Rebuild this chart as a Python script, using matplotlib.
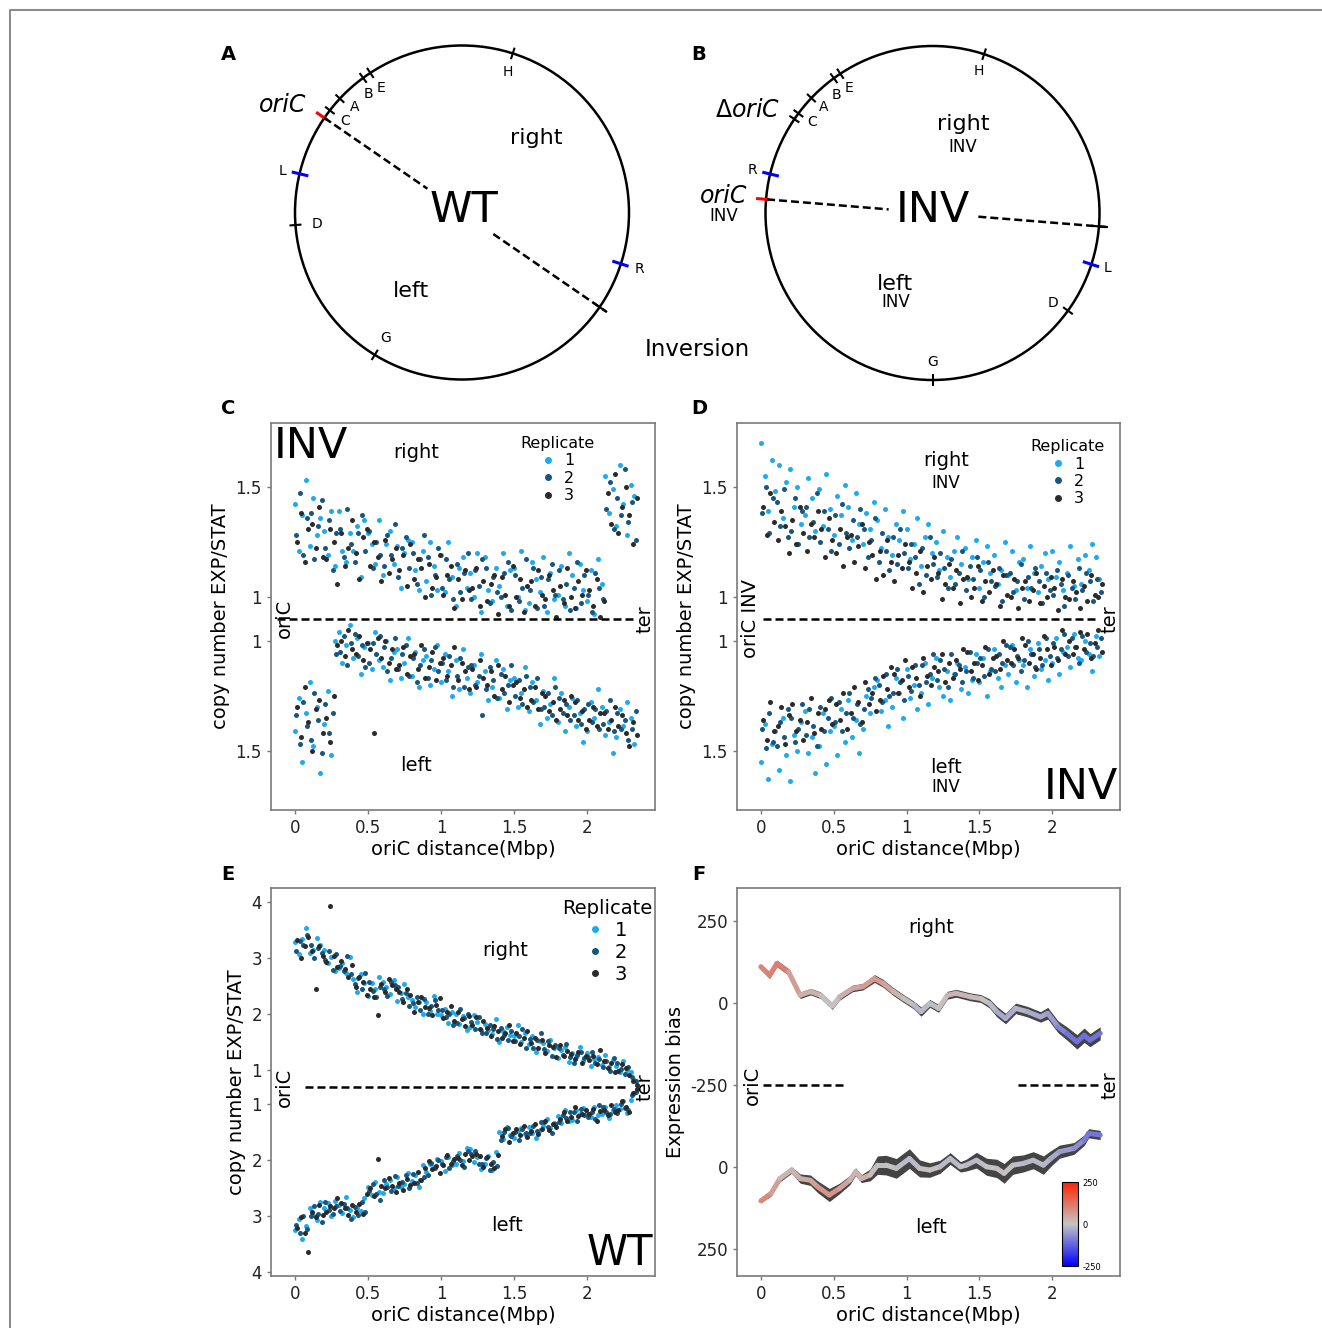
import numpy as np
import matplotlib.pyplot as plt
from matplotlib.patches import Circle
from matplotlib.collections import LineCollection
from matplotlib.colors import LinearSegmentedColormap, Normalize
from matplotlib.cm import ScalarMappable
from matplotlib.lines import Line2D

plt.rcParams['axes.unicode_minus'] = False

# genome bins, Mbp from oriC (25 kb windows)
dist = np.arange(94) * 0.025

# ---- C: INV strain, copy number EXP/STAT (x100), right / left arm, replicates 1-3
c_r1 = [142,121,137,153, 123,145,128,136, 130,119,139,114, 139,121,116,129, 121,132,109,135,
        129,124,115,135, 110,124,130,115, 123,104,120,126, 125,112,103,121, 107,125,114,103,
        119,102,125,109, 96,113,118,104, 111,100,120,93, 118,103,98,113, 105,120,96,112,
        113,100,121,94, 97,116,108,102, 118,93,111,99, 101,114,96,120, 110,95,115,103,
        98,112,92,117, 106, 155,138,149,132,160,142,128,151,146]
c_r2 = [128,147,119,136, 138,117,132,144, 122,135,112,129, 131,118,140,124, 116,129,137,121,
        130,113,125,119, 114,128,119,133, 109,122,127,113, 120,106,117,128, 118,101,110,122,
        104,117,108,99, 115,102,111,120, 99,112,105,117, 113,97,109,102, 100,111,116,94,
        110,98,104,117, 103,113,95,109, 96,108,115,101, 112,99,106,94, 104,116,97,110,
        101,93,111,104, 99, 140,152,131,145,137,158,134,143,126]
c_r3 = [125,138,116,131, 133,122,141,118, 117,131,125,106, 129,114,122,135, 120,108,127,131,
        114,125,118,107, 126,111,117,122, 112,119,105,124, 108,117,113,100, 115,104,109,119,
        101,110,114,95, 108,99,112,103, 104,113,96,107, 98,106,110,92, 109,101,96,114,
        100,108,93,105, 107,96,112,101, 99,110,103,91, 105,97,113,100, 95,107,101,112,
        103,96,108,91, 98, 147,133,156,129,141,150,137,124,145]
c_l1 = [141,126,155,133, 119,148,130,160, 138,123,152, 100, 96,110,102,93, 108,99,115,103,
        101,113,96,109, 112,100,118,105, 104,117,110,99, 116,105,121,109, 107,120,113,102,
        119,106,114,125, 109,122,104,117, 124,111,119,106, 114,127,121,109, 126,113,131,118,
        117,130,124,112, 132,119,127,138, 123,135,129,117, 137,124,141,130, 126,139,133,146,
        141,128,135,122, 130,143,137,151, 144,131,139,128, 135,147]
c_l2 = [134,147,128,139, 145,124,136,151, 129,142,133, 106, 105,98,111,101, 97,107,102,112,
        110,101,106,98, 103,114,108,99, 113,106,102,116, 108,119,111,104, 117,109,103,114,
        110,118,107,121, 116,108,121,112, 111,120,116,134, 122,112,118,126, 115,124,120,111,
        125,118,129,116, 121,128,117,131, 130,124,134,121, 126,133,129,136, 134,127,138,131,
        129,137,131,140, 138,132,127,141, 133,140,136,145, 140,132]
c_l3 = [130,144,121,137, 150,131,127,142, 135,146,125, 102, 100,107,95,104, 106,98,109,101,
        104,142,99,108, 100,110,104,113, 111,103,115,107, 106,113,102,117, 112,105,118,110,
        108,116,111,103, 118,110,114,122, 113,121,109,117, 120,114,125,111, 122,116,128,120,
        119,126,122,130, 127,121,131,124, 125,132,128,136, 131,127,134,125, 128,136,132,140,
        136,130,139,133, 133,140,136,130, 139,134,142,148, 137,143]

# ---- D: INV strain with inverted arms
d_r1 = [170,155,139,162, 148,160,136,152, 158,141,150,133, 137,154,145,130, 149,132,156,140,
        128,146,137,151, 141,126,147,133, 124,138,131,143, 135,122,140,127, 119,133,126,139,
        131,117,124,136, 114,127,133,120, 125,112,130,118, 109,121,127,115, 122,108,118,126,
        104,116,123,111, 119,106,112,125, 110,121,103,116, 117,104,123,111, 102,114,120,108,
        121,109,116,103, 111,123,105,117, 106,119,112,124, 118,108]
d_r2 = [138,150,129,145, 143,132,149,127, 130,145,124,139, 141,127,134,147, 125,139,131,121,
        137,124,142,129, 122,135,127,140, 131,118,126,136, 116,129,121,112, 127,115,131,120,
        113,124,118,106, 122,110,127,115, 109,120,113,104, 117,106,111,121, 103,114,108,118,
        112,100,116,107, 105,113,98,110, 111,102,107,115, 99,109,104,113, 107,97,111,103,
        101,112,106,96, 110,104,99,113, 103,111,107,98, 108,102]
d_r3 = [141,128,147,134, 126,139,132,120, 135,124,141,129, 121,133,127,139, 131,118,136,126,
        120,131,114,127, 128,116,123,133, 113,125,119,108, 121,110,126,116, 107,119,113,124,
        116,104,111,121, 102,114,108,118, 111,99,106,115, 104,112,97,108, 109,100,104,114,
        98,107,102,112, 106,96,110,101, 100,108,95,104, 107,98,103,111, 97,105,100,109,
        104,94,108,100, 99,107,102,95, 105,98,110,101, 100,106]
d_l1 = [155,138,163,147, 141,159,135,152, 164,143,150,137, 132,151,144,160, 148,133,156,141,
        139,152,131,146, 127,144,136,151, 140,125,133,121, 118,132,127,139, 130,117,124,135,
        113,126,120,131, 124,110,129,117, 108,121,125,114, 127,115,110,122, 112,124,118,106,
        119,108,125,114, 104,117,121,111, 115,102,119,109, 111,121,104,116, 101,113,109,118,
        110,99,115,105, 103,112,97,108, 109,100,106,114, 98,107]
d_l2 = [140,149,133,146, 148,137,144,131, 135,146,140,129, 143,131,139,148, 130,141,135,126,
        137,128,141,133, 124,135,129,138, 131,122,126,117, 120,128,115,125, 124,113,119,127,
        116,123,111,120, 111,119,115,106, 118,109,113,121, 106,115,111,119, 114,105,117,110,
        108,116,104,113, 114,106,110,102, 103,111,107,114, 109,100,106,112, 104,111,99,107,
        101,108,104,97, 107,99,103,110, 98,105,101,107, 103,99]
d_l3 = [136,145,128,141, 139,130,147,134, 129,141,136,145, 137,126,142,133, 140,131,127,138,
        129,136,124,140, 133,121,128,137, 119,129,124,132, 127,116,122,112, 115,124,118,109,
        121,112,117,125, 108,116,120,112, 114,106,119,110, 117,109,113,104, 105,114,110,118,
        111,103,115,108, 107,113,100,109, 110,104,108,99, 102,110,106,113, 108,98,104,111,
        103,109,95,106, 100,106,103,96, 104,97,108,101, 95,105]

# ---- E: WT strain
e_r1 = [328,307,334,353, 309,314,336,323, 314,291,301,276, 282,291,273,302, 262,240,271,255,
        232,255,244,266, 257,248,235,260, 224,238,253,231, 225,213,221,201, 222,206,232,201,
        198,209,184,204, 201,182,196,172, 177,198,185,172, 182,171,164,191, 151,169,177,162,
        161,180,151,167, 146,161,133,152, 148,134,154,139, 122,135,141,114, 130,123,142,117,
        131,108,120,124, 109,127,105,118, 107,96,117,101, 97,82]
e_r2 = [313,330,323,341, 324,300,318,309, 296,312,279,307, 286,276,304,271, 253,264,244,273,
        258,242,230,249, 245,233,258,251, 248,227,237,215, 219,230,207,226, 201,214,225,207,
        207,195,201,181, 184,209,193,201, 185,174,194,167, 166,181,174,155, 176,162,153,170,
        152,161,174,140, 156,140,153,166, 138,152,126,144, 139,127,147,123, 113,127,133,121,
        123,133,112,119, 106,116,98,122, 113,102,93,106, 88,80]
e_r3 = [333,300,321,337, 312,245,321,304, 293,392,304,284, 295,280,267,288, 248,267,258,234,
        244,231,198,253, 240,262,251,244, 240,221,244,234, 204,222,231,213, 211,199,216,229,
        193,203,214,188, 204,191,178,197, 181,195,173,187, 176,160,179,169, 157,166,181,152,
        166,146,157,170, 149,157,139,153, 131,145,141,124, 144,125,134,129, 120,133,112,126,
        118,126,111,135, 116,104,113,97, 99,110,103,92, 81,74]
e_l1 = [326,306,342,318, 286,298,308,275, 286,278,301,274, 281,295,267,290, 302,287,291,268,
        249,263,240,257, 259,244,236,250, 230,248,243,223, 238,227,248,210, 221,208,213,199,
        203,220,195,209, 207,188,202,179, 181,204,195,216, 208,194,219,186, 150,163,142,156,
        162,149,143,154, 141,152,161,147, 140,127,144,134, 122,134,111,130, 129,112,119,108,
        116,124,105,120, 119,106,126,112, 102,110,95,116, 94,81]
e_l2 = [317,331,300,324, 301,282,296,312, 275,289,297,283, 292,279,287,305, 285,299,276,293,
        256,243,262,271, 237,248,256,229, 246,240,228,251, 225,241,236,230, 227,205,215,201,
        207,196,215,202, 194,201,213,185, 190,185,207,208, 197,218,204,211, 164,151,143,158,
        150,164,145,153, 153,139,149,133, 132,141,152,137, 133,120,126,114, 114,131,109,120,
        123,114,127,103, 106,115,118,109, 117,101,107,111, 85,79]
e_l3 = [321,302,330,365, 293,303,281,298, 294,282,286,268, 277,287,299,280, 293,279,296,262,
        251,265,198,246, 251,233,247,258, 241,254,234,245, 241,221,237,215, 203,216,211,224,
        210,192,207,199, 197,209,190,201, 193,189,194,213, 195,207,214,191, 157,146,169,152,
        146,156,139,160, 149,136,154,145, 130,147,136,142, 128,115,131,124, 106,122,119,112,
        119,109,130,113, 111,120,103,115, 112,96,106,115, 81,74]

# ---- F: expression bias (smoothed) with ribbon half width
f_r_x = [0.0,0.06,0.11,0.19,0.27,0.34,0.41,0.49,0.54,0.63,0.70,0.78,0.84,0.91,0.98,1.05,1.10,1.16,
         1.22,1.28,1.34,1.44,1.51,1.57,1.62,1.68,1.75,1.83,1.92,1.97,2.04,2.10,2.17,2.22,2.26,2.33]
f_r_v = [111,85,121,95,24,35,24,-9,19,45,50,75,60,35,14,-6,-26,-1,
         -16,24,30,19,14,-1,-26,-47,-16,-26,-42,-31,-72,-92,-118,-98,-113,-92]
f_r_w = [8,10,10,10,10,10,10,10,10,10,10,12,12,12,12,12,14,12,
         12,12,12,12,12,14,16,16,16,16,16,18,18,20,22,22,20,20]
f_l_x = [0.0,0.07,0.13,0.21,0.27,0.34,0.39,0.47,0.54,0.61,0.65,0.69,0.75,0.80,0.86,0.93,1.02,1.09,1.16,
         1.23,1.30,1.37,1.41,1.48,1.55,1.62,1.67,1.73,1.80,1.87,1.94,1.99,2.05,2.15,2.22,2.25,2.33]
f_l_v = [103,80,35,9,35,40,60,85,65,40,14,35,24,-6,-6,4,-26,4,9,
         -1,-26,-1,-6,-21,-1,4,19,-6,-11,-21,-6,-26,-47,-57,-82,-103,-98]
f_l_w = [6,8,10,10,14,16,18,20,16,14,12,12,18,28,30,30,30,26,22,
         20,18,16,18,24,26,28,30,28,26,26,28,24,20,18,16,14,14]

# ---- genome maps: (angle in degrees, colour, kind)
wt_marks = [(145.5, 'red', 'red'), (142.3, 'k', 'k'), (137.0, 'k', 'k'), (126.3, 'k', 'k'),
            (123.3, 'k', 'k'), (72.3, 'k', 'k'), (166.6, 'blue', 'blue'), (184.3, 'k', 'k'),
            (238.5, 'k', 'k'), (-17.9, 'blue', 'blue'), (-34.5, 'k', 'ter')]
wt_labels = [('C', 142, 148), ('A', 135.3, 150.6), ('B', 128.3, 151.6), ('E', 123, 149),
             ('H', 72, 148), ('L', 167, 184), ('D', 184.7, 145.5), ('G', 238.9, 147), ('R', -17.8, 186)]
inv_marks = [(145.8, 'k', 'k'), (143.4, 'k', 'k'), (136.5, 'k', 'k'), (126.2, 'k', 'k'),
             (123.5, 'k', 'k'), (72.0, 'k', 'k'), (166.5, 'blue', 'blue'), (175.3, 'red', 'red'),
             (-4.6, 'k', 'ter'), (-17.9, 'blue', 'blue'), (-35.8, 'k', 'k'), (270.0, 'k', 'k')]
inv_labels = [('C', 143, 151), ('A', 135.7, 151.7), ('B', 129, 152), ('E', 123.7, 150),
              ('H', 71.9, 149), ('R', 166.6, 185.6), ('L', -17.5, 183), ('D', -36.8, 150), ('G', 270, 149)]

rep_colors = ['#1eaaf0', '#17577f', '#2b2b2b']

W, H = 1322, 1328
fig = plt.figure(figsize=(W / 100, H / 100), dpi=100)

bg = fig.add_axes([0, 0, 1, 1])
bg.set_xlim(0, W)
bg.set_ylim(H, 0)
bg.axis('off')
bg.plot([10, 10, W], [H, 10, 10], color='#8c8c8c', lw=1.5)

R = 167
ext = {'k': (R - 6, R + 6), 'red': (R - 3, R + 10), 'blue': (R - 9, R + 8), 'ter': (R - 8, R + 9)}


def radial(cx, cy, ang, r0, r1, **kw):
    a = np.deg2rad(ang)
    bg.plot([cx + r0 * np.cos(a), cx + r1 * np.cos(a)],
            [cy - r0 * np.sin(a), cy - r1 * np.sin(a)], **kw)


def genome_map(cx, cy, marks, labels):
    bg.add_patch(Circle((cx, cy), R, fill=False, ec='black', lw=1.8))
    for ang, col, kind in marks:
        r0, r1 = ext[kind]
        radial(cx, cy, ang, r0, r1, color=col, lw=2.2 if col != 'k' else 1.5,
               solid_capstyle='butt')
    for txt, ang, rr in labels:
        a = np.deg2rad(ang)
        bg.text(cx + rr * np.cos(a), cy - rr * np.sin(a), txt, ha='center', va='center', fontsize=10)


dash = dict(color='black', lw=1.8, ls=(0, (3.2, 1.6)))

# A: wild type
genome_map(462, 212.5, wt_marks, wt_labels)
radial(462, 212.5, 145.5, R, 42, **dash)
radial(462, 212.5, -34.5, 38, R + 8, **dash)
bg.text(283, 105, 'oriC', fontsize=17, style='italic', ha='center', va='center')
bg.text(536, 138, 'right', fontsize=16, ha='center', va='center')
bg.text(411, 291, 'left', fontsize=16, ha='center', va='center')
bg.text(464, 210, 'WT', fontsize=31, ha='center', va='center')

# B: inversion
genome_map(932.5, 213, inv_marks, inv_labels)
radial(932.5, 213, 175.3, R - 1, 44, **dash)
radial(932.5, 213, -4.6, 46, R + 8, **dash)
bg.text(748, 110, r'$\Delta\mathit{oriC}$', fontsize=17, ha='center', va='center')
bg.text(724, 196, 'oriC', fontsize=17, style='italic', ha='center', va='center')
bg.text(724, 216, 'INV', fontsize=12, ha='center', va='center')
bg.text(963, 124, 'right', fontsize=16, ha='center', va='center')
bg.text(963, 147, 'INV', fontsize=12, ha='center', va='center')
bg.text(933, 210, 'INV', fontsize=31, ha='center', va='center')
bg.text(895, 284, 'left', fontsize=16, ha='center', va='center')
bg.text(896, 302, 'INV', fontsize=12, ha='center', va='center')
bg.text(697, 349, 'Inversion', fontsize=16.5, ha='center', va='center')

for letter, px, py in [('A', 228, 54), ('B', 699, 54), ('C', 228, 408),
                       ('D', 699, 408), ('E', 228, 874), ('F', 699, 874)]:
    bg.text(px, py, letter, fontsize=14, fontweight='bold', ha='center', va='center')


def panel(rect_px, ylim):
    x0, y0, x1, y1 = rect_px
    ax = fig.add_axes([x0 / W, 1 - y1 / H, (x1 - x0) / W, (y1 - y0) / H])
    ax.set_xlim(-0.164, 2.466)
    ax.set_ylim(*ylim)
    for s in ax.spines.values():
        s.set_color('#7a7a7a')
        s.set_linewidth(1.2)
    ax.tick_params(length=3, width=1, color='#7a7a7a', labelsize=12, labelcolor='#222222')
    ax.set_xticks([0, 0.5, 1, 1.5, 2])
    ax.set_xticklabels(['0', '0.5', '1', '1.5', '2'])
    ax.set_xlabel('oriC distance(Mbp)', fontsize=14, labelpad=2)
    return ax


def mirrored(ax, right, left, centre):
    for k, (r, l, col) in enumerate(zip(right, left, rep_colors)):
        x = dist + k * 0.008
        ax.scatter(x, np.array(r) / 100 - centre, s=13, color=col, lw=0)
        ax.scatter(x, -(np.array(l) / 100 - centre), s=13, color=col, lw=0)


def rep_legend(ax, fx, fy, size):
    hs = [Line2D([], [], ls='none', marker='o', ms=4, color=c) for c in rep_colors]
    ax.legend(hs, ['1', '2', '3'], title='Replicate', frameon=False, loc='upper center',
              bbox_to_anchor=(fx, fy), fontsize=size, title_fontsize=size,
              handlelength=0.8, handletextpad=0.6, labelspacing=0.15, borderpad=0)


def note(ax, fx, fy, txt, size=14, **kw):
    ax.text(fx, fy, txt, transform=ax.transAxes, fontsize=size, ha='center', va='center', **kw)


# C
axC = panel((271, 423, 655, 810), (-0.87, 0.89))
mirrored(axC, [c_r1, c_r2, c_r3], [c_l1, c_l2, c_l3], 0.9)
axC.plot([-0.12, 2.32], [0, 0], **dash)
axC.set_yticks([0.6, 0.1, -0.1, -0.6])
axC.set_yticklabels(['1.5', '1', '1', '1.5'])
axC.set_ylabel('copy number EXP/STAT', fontsize=14, labelpad=4)
rep_legend(axC, 0.747, 0.987, 11.5)
note(axC, 0.378, 0.925, 'right')
note(axC, 0.378, 0.114, 'left')
note(axC, 0.036, 0.494, 'oriC', rotation=90)
note(axC, 0.974, 0.494, 'ter', rotation=90)
axC.text(0.008, 0.995, 'INV', transform=axC.transAxes, fontsize=31, ha='left', va='top')

# D
axD = panel((737, 423, 1120, 810), (-0.87, 0.89))
mirrored(axD, [d_r1, d_r2, d_r3], [d_l1, d_l2, d_l3], 0.9)
axD.plot([0.014, 2.316], [0, 0], **dash)
axD.set_yticks([0.6, 0.1, -0.1, -0.6])
axD.set_yticklabels(['1.5', '1', '1', '1.5'])
axD.set_ylabel('copy number EXP/STAT', fontsize=14, labelpad=4)
rep_legend(axD, 0.864, 0.979, 11.5)
note(axD, 0.546, 0.902, 'right')
note(axD, 0.546, 0.845, 'INV', size=12)
note(axD, 0.546, 0.109, 'left')
note(axD, 0.546, 0.059, 'INV', size=12)
note(axD, 0.034, 0.494, 'oriC INV', rotation=90)
note(axD, 0.974, 0.494, 'ter', rotation=90)
axD.text(0.995, 0.005, 'INV', transform=axD.transAxes, fontsize=31, ha='right', va='bottom')

# E
axE = panel((271, 888, 655, 1276), (-3.375, 3.55))
mirrored(axE, [e_r1, e_r2, e_r3], [e_l1, e_l2, e_l3], 0.7)
axE.plot([0.07, 2.29], [0, 0], **dash)
axE.set_yticks([3.3, 2.3, 1.3, 0.3, -0.3, -1.3, -2.3, -3.3])
axE.set_yticklabels(['4', '3', '2', '1', '1', '2', '3', '4'])
axE.set_ylabel('copy number EXP/STAT', fontsize=14, labelpad=4)
rep_legend(axE, 0.875, 0.997, 14)
note(axE, 0.609, 0.838, 'right')
note(axE, 0.615, 0.131, 'left')
note(axE, 0.036, 0.487, 'oriC', rotation=90)
note(axE, 0.974, 0.487, 'ter', rotation=90)
axE.text(0.995, 0.005, 'WT', transform=axE.transAxes, fontsize=30, ha='right', va='bottom')

# F
cmap = LinearSegmentedColormap.from_list('bias', ['#0000ff', '#c4c4c4', '#ff2200'])
norm = Normalize(-250, 250)
axF = panel((737, 888, 1120, 1276), (-582, 601))
for xs, vs, ws, sign in [(f_r_x, f_r_v, f_r_w, 1), (f_l_x, f_l_v, f_l_w, -1)]:
    xs, vs, ws = np.array(xs), np.array(vs, float), np.array(ws, float)
    ys = sign * (vs + 250)
    axF.fill_between(xs, ys - ws, ys + ws, color='#444444', lw=0)
    pts = np.column_stack([xs, ys]).reshape(-1, 1, 2)
    segs = np.concatenate([pts[:-1], pts[1:]], axis=1)
    lc = LineCollection(segs, cmap=cmap, norm=norm, linewidths=3.6, capstyle='round')
    lc.set_array((vs[:-1] + vs[1:]) / 2)
    axF.add_collection(lc)
axF.plot([0.014, 0.564], [0, 0], **dash)
axF.plot([1.766, 2.316], [0, 0], **dash)
axF.set_yticks([500, 250, 0, -250, -500])
axF.set_yticklabels(['250', '0', '-250', '0', '250'])
axF.set_ylabel('Expression bias', fontsize=14, labelpad=4)
note(axF, 0.507, 0.897, 'right')
note(axF, 0.507, 0.124, 'left')
note(axF, 0.039, 0.492, 'oriC', rotation=90)
note(axF, 0.974, 0.492, 'ter', rotation=90)

cax = fig.add_axes([1062 / W, 1 - 1266 / H, 16 / W, 84 / H])
cb = fig.colorbar(ScalarMappable(norm=norm, cmap=cmap), cax=cax, ticks=[-250, 0, 250])
cb.ax.tick_params(labelsize=6, length=2, width=0.6, color='white', pad=1)
cb.outline.set_linewidth(0.8)

fig.savefig('out.png', dpi=100)
